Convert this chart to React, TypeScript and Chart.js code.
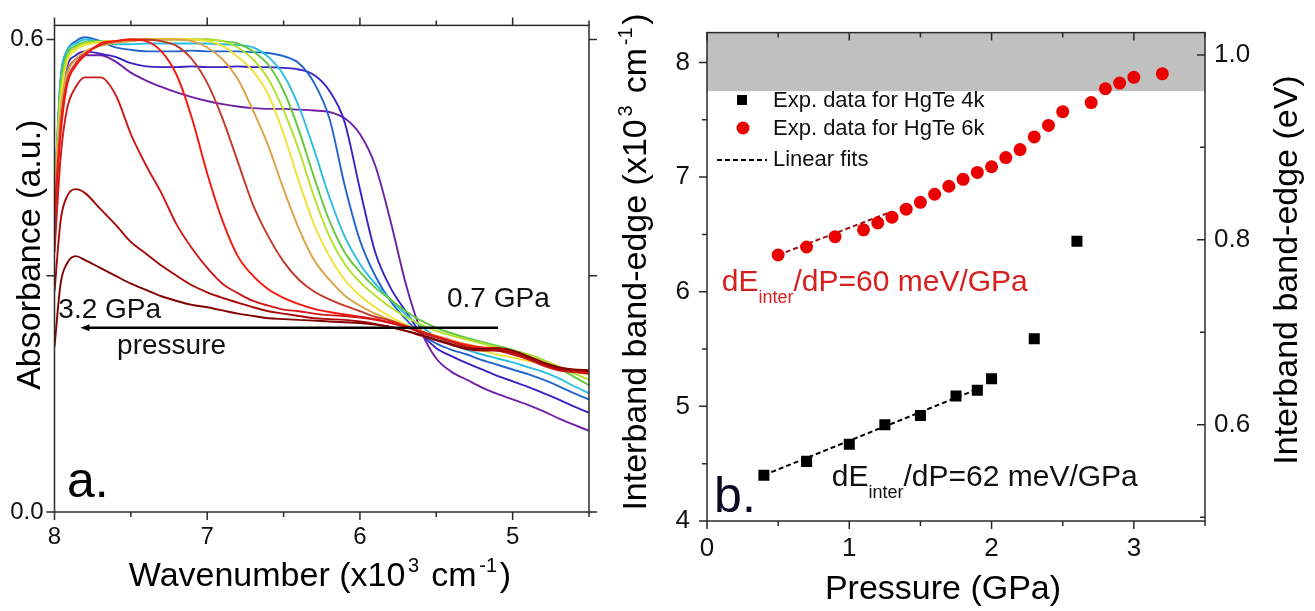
import React, { useEffect, useRef } from "react";
import { Chart, registerables } from "chart.js";

Chart.register(...registerables);

const FONT = '"Liberation Sans", Arial, Helvetica, sans-serif';

// ---------------- Panel a: absorbance spectra ----------------
const wavenumbers = [8.0, 7.96, 7.92, 7.86, 7.8, 7.7, 7.6, 7.5, 7.4, 7.3, 7.2, 7.1, 7.0, 6.9, 6.8, 6.7, 6.6, 6.5, 6.4, 6.3, 6.2, 6.1, 6.0, 5.9, 5.8, 5.7, 5.6, 5.5, 5.4, 5.3, 5.2, 5.1, 5.0, 4.9, 4.8, 4.7, 4.6, 4.5];

// 3.2 GPa (darkest red) ... 0.7 GPa (purple)
const absDarkest = [0.21, 0.29, 0.315, 0.325, 0.32, 0.31, 0.3, 0.29, 0.282, 0.274, 0.268, 0.263, 0.26, 0.256, 0.252, 0.249, 0.246, 0.245, 0.244, 0.243, 0.242, 0.241, 0.24, 0.238, 0.235, 0.23, 0.225, 0.219, 0.213, 0.208, 0.207, 0.208, 0.205, 0.198, 0.19, 0.184, 0.181, 0.18];
const absDarkRed = [0.28, 0.37, 0.4, 0.41, 0.405, 0.385, 0.365, 0.343, 0.328, 0.313, 0.3, 0.288, 0.279, 0.272, 0.266, 0.26, 0.255, 0.252, 0.249, 0.246, 0.245, 0.244, 0.242, 0.239, 0.235, 0.23, 0.224, 0.218, 0.212, 0.207, 0.205, 0.205, 0.202, 0.196, 0.188, 0.182, 0.18, 0.179];
const absRed1 = [0.33, 0.45, 0.51, 0.54, 0.552, 0.552, 0.53, 0.48, 0.44, 0.405, 0.365, 0.335, 0.31, 0.29, 0.278, 0.268, 0.262, 0.257, 0.255, 0.252, 0.25, 0.249, 0.247, 0.244, 0.24, 0.235, 0.228, 0.222, 0.216, 0.21, 0.207, 0.205, 0.2, 0.194, 0.186, 0.18, 0.178, 0.176];
const absRed2 = [0.37, 0.48, 0.54, 0.567, 0.58, 0.595, 0.598, 0.6, 0.598, 0.585, 0.555, 0.5, 0.43, 0.37, 0.325, 0.3, 0.283, 0.272, 0.264, 0.258, 0.254, 0.251, 0.248, 0.245, 0.241, 0.236, 0.229, 0.223, 0.217, 0.212, 0.209, 0.208, 0.203, 0.196, 0.188, 0.182, 0.179, 0.177];
const absRed3 = [0.38, 0.49, 0.545, 0.57, 0.582, 0.593, 0.598, 0.6, 0.6, 0.598, 0.592, 0.575, 0.545, 0.5, 0.445, 0.39, 0.35, 0.318, 0.295, 0.28, 0.27, 0.262, 0.255, 0.248, 0.243, 0.236, 0.229, 0.222, 0.216, 0.211, 0.208, 0.207, 0.202, 0.195, 0.187, 0.181, 0.178, 0.176];
const absOrange = [0.4, 0.51, 0.555, 0.575, 0.585, 0.592, 0.596, 0.598, 0.6, 0.6, 0.6, 0.598, 0.59, 0.575, 0.55, 0.51, 0.465, 0.41, 0.36, 0.32, 0.295, 0.275, 0.262, 0.252, 0.244, 0.237, 0.23, 0.224, 0.218, 0.213, 0.209, 0.207, 0.203, 0.196, 0.188, 0.182, 0.178, 0.175];
const absYellow = [0.4, 0.52, 0.57, 0.587, 0.593, 0.597, 0.598, 0.6, 0.6, 0.6, 0.6, 0.6, 0.598, 0.592, 0.578, 0.56, 0.53, 0.48, 0.42, 0.365, 0.325, 0.295, 0.275, 0.26, 0.248, 0.238, 0.23, 0.222, 0.216, 0.21, 0.205, 0.2, 0.196, 0.192, 0.188, 0.184, 0.18, 0.175];
const absYellowGreen = [0.4, 0.53, 0.575, 0.59, 0.595, 0.597, 0.598, 0.6, 0.6, 0.6, 0.6, 0.6, 0.6, 0.598, 0.59, 0.575, 0.55, 0.51, 0.46, 0.4, 0.35, 0.315, 0.292, 0.275, 0.26, 0.248, 0.238, 0.23, 0.224, 0.219, 0.214, 0.209, 0.205, 0.2, 0.193, 0.185, 0.176, 0.168];
const absGreen = [0.4, 0.54, 0.58, 0.592, 0.597, 0.598, 0.597, 0.598, 0.6, 0.6, 0.6, 0.6, 0.6, 0.598, 0.595, 0.585, 0.568, 0.535, 0.485, 0.425, 0.37, 0.33, 0.305, 0.285, 0.27, 0.255, 0.243, 0.234, 0.227, 0.221, 0.216, 0.211, 0.206, 0.2, 0.193, 0.183, 0.172, 0.161];
const absCyan = [0.4, 0.55, 0.585, 0.595, 0.6, 0.597, 0.594, 0.594, 0.595, 0.595, 0.595, 0.595, 0.595, 0.594, 0.593, 0.59, 0.578, 0.555, 0.515, 0.46, 0.4, 0.35, 0.315, 0.29, 0.27, 0.251, 0.236, 0.222, 0.213, 0.206, 0.2, 0.195, 0.19, 0.184, 0.178, 0.17, 0.16, 0.151];
const absBlue = [0.4, 0.55, 0.585, 0.598, 0.603, 0.598, 0.59, 0.587, 0.585, 0.585, 0.585, 0.586, 0.585, 0.585, 0.585, 0.584, 0.583, 0.579, 0.57, 0.545, 0.5, 0.415, 0.345, 0.3, 0.268, 0.245, 0.226, 0.214, 0.206, 0.2, 0.193, 0.187, 0.181, 0.175, 0.168, 0.16, 0.151, 0.143];
const absIndigo = [0.38, 0.52, 0.565, 0.58, 0.585, 0.582, 0.578, 0.57, 0.566, 0.565, 0.565, 0.566, 0.565, 0.565, 0.566, 0.565, 0.565, 0.564, 0.562, 0.555, 0.535, 0.495, 0.41, 0.33, 0.285, 0.255, 0.227, 0.208, 0.198, 0.189, 0.181, 0.173, 0.166, 0.159, 0.151, 0.143, 0.134, 0.126];
const absPurple = [0.36, 0.5, 0.555, 0.575, 0.58, 0.58, 0.572, 0.558, 0.548, 0.54, 0.533, 0.527, 0.522, 0.518, 0.515, 0.513, 0.512, 0.512, 0.511, 0.51, 0.508, 0.5, 0.48, 0.44, 0.37, 0.29, 0.23, 0.195, 0.178, 0.168, 0.158, 0.15, 0.143, 0.136, 0.128, 0.119, 0.111, 0.103];

const spectra = [absDarkest, absDarkRed, absRed1, absRed2, absRed3, absOrange, absYellow, absYellowGreen, absGreen, absCyan, absBlue, absIndigo, absPurple];
const spectraColors = [
  "rgb(128,0,0)", "rgb(168,8,8)", "rgb(205,25,25)", "rgb(250,20,10)", "rgb(195,55,40)",
  "rgb(222,160,70)", "rgb(240,225,50)", "rgb(180,225,40)", "rgb(100,200,60)",
  "rgb(40,190,225)", "rgb(34,102,204)", "rgb(58,34,196)", "rgb(112,32,168)",
];

const wnMajorTicks = [8, 7, 6, 5];
const wnMinorTicks = [7.5, 6.5, 5.5, 4.5];
const absMajorTicks = [0, 0.3, 0.6];
const absLabelled = [0, 0.6];

// ---------------- Panel b: band edge vs pressure ----------------
const pressure4k = [0.4, 0.7, 1.0, 1.25, 1.5, 1.75, 1.9, 2.0, 2.3, 2.6];
const edge4k = [4.4, 4.52, 4.67, 4.84, 4.92, 5.09, 5.14, 5.24, 5.59, 6.44];
const pressure6k = [0.5, 0.7, 0.9, 1.1, 1.2, 1.3, 1.4, 1.5, 1.6, 1.7, 1.8, 1.9, 2.0, 2.1, 2.2, 2.3, 2.4, 2.5, 2.7, 2.8, 2.9, 3.0, 3.2];
const edge6k = [6.32, 6.39, 6.48, 6.54, 6.6, 6.65, 6.72, 6.78, 6.85, 6.92, 6.98, 7.04, 7.09, 7.17, 7.24, 7.35, 7.45, 7.57, 7.65, 7.77, 7.82, 7.87, 7.9];
const fit4kPressure = [0.4, 1.9];
const fit4kEdge = [4.4, 5.15];
const fit6kPressure = [0.5, 1.3];
const fit6kEdge = [6.32, 6.7];
const shadedFrom = 7.75;
const CM_PER_EV = 8.0655;

const pMajorTicks = [0, 1, 2, 3];
const pMinorTicks = [0.5, 1.5, 2.5, 3.5];
const edgeMajorTicks = [4, 5, 6, 7, 8];
const edgeMinorTicks = [4.5, 5.5, 6.5, 7.5];
const evMajorTicks = [0.6, 0.8, 1.0];
const evMinorTicks = [0.5, 0.7, 0.9];

const legendLabels = ["Exp. data for HgTe 4k", "Exp. data for HgTe 6k", "Linear fits"];

// ---------------- helpers ----------------
type Seg = { t: string; k?: "sup" | "sub" };

function drawRich(
  ctx: CanvasRenderingContext2D, segs: Seg[], x: number, y: number, size: number,
  color: string, align: "left" | "center", rotate = false
) {
  ctx.save();
  ctx.fillStyle = color;
  ctx.textBaseline = "alphabetic";
  ctx.textAlign = "left";
  const gap = size * 0.08;
  const parts = segs.map((s) => {
    const fs = s.k ? Math.round(size * 0.6) : size;
    ctx.font = `${fs}px ${FONT}`;
    return { ...s, fs, w: ctx.measureText(s.t).width };
  });
  const total = parts.reduce((a, p) => a + p.w + (p.k === "sup" ? 2 * gap : 0), 0);
  ctx.translate(x, y);
  if (rotate) ctx.rotate(-Math.PI / 2);
  let cx = align === "center" ? -total / 2 : 0;
  for (const p of parts) {
    ctx.font = `${p.fs}px ${FONT}`;
    let dy = 0;
    if (p.k === "sup") { cx += gap; dy = -size * 0.42; }
    if (p.k === "sub") dy = size * 0.4;
    ctx.fillText(p.t, cx, dy);
    cx += p.w + (p.k === "sup" ? gap : 0);
  }
  ctx.restore();
}

function tickMarks(
  ctx: CanvasRenderingContext2D, scale: any, values: number[], len: number,
  edge: "left" | "right" | "top" | "bottom", area: any, inward: boolean
) {
  ctx.beginPath();
  for (const v of values) {
    const p = scale.getPixelForValue(v);
    if (edge === "bottom") { const d = inward ? -1 : 1; ctx.moveTo(p, area.bottom); ctx.lineTo(p, area.bottom + d * len); }
    if (edge === "top") { const d = inward ? 1 : -1; ctx.moveTo(p, area.top); ctx.lineTo(p, area.top + d * len); }
    if (edge === "left") { const d = inward ? 1 : -1; ctx.moveTo(area.left, p); ctx.lineTo(area.left + d * len, p); }
    if (edge === "right") { const d = inward ? -1 : 1; ctx.moveTo(area.right, p); ctx.lineTo(area.right + d * len, p); }
  }
  ctx.stroke();
}

function fixedTicks(values: number[]) {
  return (s: any) => { s.ticks = values.map((v) => ({ value: v })); };
}

const FRAME = "#2a2a2a";

// ---------------- chart a ----------------
function makeChartA(canvas: HTMLCanvasElement) {
  const datasets = spectra.map((vals, i) => ({
    label: `curve ${i + 1}`,
    data: wavenumbers.map((x, j) => ({ x, y: vals[j] })),
    borderColor: spectraColors[i],
    backgroundColor: spectraColors[i],
    borderWidth: 1.9,
    pointRadius: 0,
    fill: false,
    cubicInterpolationMode: "monotone" as const,
  }));

  const decor = {
    id: "decorA",
    afterDraw(chart: any) {
      const { ctx, chartArea: a, scales } = chart;
      const xs = scales.x, ys = scales.y;
      ctx.save();
      ctx.strokeStyle = FRAME;
      ctx.lineWidth = 1.5;
      ctx.strokeRect(a.left, a.top, a.right - a.left, a.bottom - a.top);
      tickMarks(ctx, xs, wnMajorTicks, 8, "bottom", a, false);
      tickMarks(ctx, xs, wnMinorTicks, 5, "bottom", a, false);
      tickMarks(ctx, xs, wnMajorTicks, 8, "top", a, false);
      tickMarks(ctx, xs, wnMinorTicks, 5, "top", a, false);
      tickMarks(ctx, ys, absMajorTicks, 8, "left", a, false);
      tickMarks(ctx, ys, absMajorTicks, 8, "right", a, false);

      // pressure arrow
      const ay = ys.getPixelForValue(0.234);
      const x0 = xs.getPixelForValue(5.096);
      const x1 = xs.getPixelForValue(7.83);
      ctx.strokeStyle = "#000";
      ctx.lineWidth = 2.4;
      ctx.beginPath();
      ctx.moveTo(x0, ay);
      ctx.lineTo(x1 + 6, ay);
      ctx.stroke();
      ctx.fillStyle = "#000";
      ctx.beginPath();
      ctx.moveTo(x1, ay);
      ctx.lineTo(x1 + 9, ay - 3.5);
      ctx.lineTo(x1 + 9, ay + 3.5);
      ctx.closePath();
      ctx.fill();

      drawRich(ctx, [{ t: "0.7 GPa" }], xs.getPixelForValue(5.43), 307, 28, "#111", "left");
      drawRich(ctx, [{ t: "3.2 GPa" }], xs.getPixelForValue(7.975), 318, 28, "#111", "left");
      drawRich(ctx, [{ t: "pressure" }], xs.getPixelForValue(7.59), 354, 28, "#111", "left");
      drawRich(ctx, [{ t: "a." }], xs.getPixelForValue(7.918), 497, 50, "#000", "left");

      // axis titles
      drawRich(ctx, [{ t: "Absorbance (a.u.)" }], 40, (a.top + a.bottom) / 2 - 14, 34, "#000", "center", true);
      drawRich(
        ctx,
        [{ t: "Wavenumber (x10" }, { t: "3", k: "sup" }, { t: " cm" }, { t: "-1", k: "sup" }, { t: ")" }],
        320, 586, 34, "#000", "center"
      );
      ctx.restore();
    },
  };

  return new Chart(canvas, {
    type: "line",
    data: { datasets },
    options: {
      animation: false,
      responsive: false,
      maintainAspectRatio: false,
      events: [],
      layout: { padding: { top: 19, right: 11, left: 0, bottom: 0 } },
      plugins: { legend: { display: false }, tooltip: { enabled: false } },
      scales: {
        x: {
          type: "linear",
          reverse: true,
          min: 4.5,
          max: 8,
          grid: { display: false, drawTicks: false },
          border: { display: false },
          afterBuildTicks: fixedTicks(wnMajorTicks),
          afterFit: (s: any) => { s.height = 99; },
          ticks: {
            autoSkip: false,
            maxRotation: 0,
            padding: 11,
            color: "#111",
            font: { family: FONT, size: 24 },
            callback: (v: any) => String(v),
          },
        },
        y: {
          type: "linear",
          min: 0,
          max: 0.618,
          grid: { display: false, drawTicks: false },
          border: { display: false },
          afterBuildTicks: fixedTicks(absMajorTicks),
          afterFit: (s: any) => { s.width = 54.5; },
          ticks: {
            autoSkip: false,
            padding: 11,
            color: "#111",
            font: { family: FONT, size: 24 },
            callback: (v: any) => (absLabelled.includes(Number(v)) ? Number(v).toFixed(1) : ""),
          },
        },
      },
    },
    plugins: [decor],
  } as any);
}

// ---------------- chart b ----------------
function makeChartB(canvas: HTMLCanvasElement) {
  const decor = {
    id: "decorB",
    beforeDatasetsDraw(chart: any) {
      const { ctx, chartArea: a, scales } = chart;
      const yTop = a.top;
      const yBand = scales.y.getPixelForValue(shadedFrom);
      ctx.save();
      ctx.fillStyle = "rgb(192,192,192)";
      ctx.fillRect(a.left, yTop, a.right - a.left, yBand - yTop);
      ctx.restore();
    },
    afterDraw(chart: any) {
      const { ctx, chartArea: a, scales } = chart;
      const xs = scales.x, ys = scales.y, y2 = scales.y2;
      ctx.save();
      ctx.strokeStyle = FRAME;
      ctx.lineWidth = 1.5;
      ctx.strokeRect(a.left, a.top, a.right - a.left, a.bottom - a.top);
      tickMarks(ctx, xs, pMajorTicks, 8, "bottom", a, false);
      tickMarks(ctx, xs, pMinorTicks, 5, "bottom", a, false);
      tickMarks(ctx, xs, pMajorTicks, 8, "top", a, true);
      tickMarks(ctx, xs, pMinorTicks, 5, "top", a, true);
      tickMarks(ctx, ys, edgeMajorTicks, 8, "left", a, false);
      tickMarks(ctx, ys, edgeMinorTicks, 5, "left", a, false);
      tickMarks(ctx, y2, evMajorTicks, 8, "right", a, true);
      tickMarks(ctx, y2, evMinorTicks, 5, "right", a, true);

      // legend
      const lx = a.left;
      ctx.fillStyle = "#000";
      ctx.fillRect(lx + 35 - 5, 100 - 5, 10, 10);
      ctx.fillStyle = "rgb(235,0,0)";
      ctx.beginPath();
      ctx.arc(lx + 36, 128, 6.5, 0, Math.PI * 2);
      ctx.fill();
      ctx.strokeStyle = "#000";
      ctx.lineWidth = 2;
      ctx.setLineDash([5, 3]);
      ctx.beginPath();
      ctx.moveTo(lx + 10, 160);
      ctx.lineTo(lx + 60, 160);
      ctx.stroke();
      ctx.setLineDash([]);
      ctx.fillStyle = "#111";
      ctx.font = `22px ${FONT}`;
      ctx.textBaseline = "middle";
      ctx.textAlign = "left";
      ctx.fillText(legendLabels[0], lx + 66, 101);
      ctx.fillText(legendLabels[1], lx + 66, 129);
      ctx.fillText(legendLabels[2], lx + 66, 160);

      // annotations
      drawRich(ctx, [{ t: "dE" }, { t: "inter", k: "sub" }, { t: "/dP=60 meV/GPa" }],
        xs.getPixelForValue(0.104), ys.getPixelForValue(6.007), 30, "rgb(214,32,32)", "left");
      drawRich(ctx, [{ t: "dE" }, { t: "inter", k: "sub" }, { t: "/dP=62 meV/GPa" }],
        xs.getPixelForValue(0.877), ys.getPixelForValue(4.309), 30, "#111", "left");
      drawRich(ctx, [{ t: "b." }], xs.getPixelForValue(0.05), ys.getPixelForValue(4.077), 50, "#0a0a22", "left");

      // axis titles
      drawRich(
        ctx,
        [{ t: "Interband band-edge (x10" }, { t: "3", k: "sup" }, { t: " cm" }, { t: "-1", k: "sup" }, { t: ")" }],
        46, 262, 34, "#000", "center", true
      );
      drawRich(ctx, [{ t: "Interband band-edge (eV)" }], 697, 270, 34, "#000", "center", true);
      drawRich(ctx, [{ t: "Pressure (GPa)" }], 343, 599, 34, "#000", "center");
      ctx.restore();
    },
  };

  return new Chart(canvas, {
    type: "line",
    data: {
      datasets: [
        {
          label: legendLabels[0],
          data: pressure4k.map((x, i) => ({ x, y: edge4k[i] })),
          showLine: false,
          pointStyle: "rect",
          pointRadius: 7.8,
          pointBackgroundColor: "#000",
          pointBorderColor: "#000",
          pointBorderWidth: 0,
        },
        {
          label: legendLabels[1],
          data: pressure6k.map((x, i) => ({ x, y: edge6k[i] })),
          showLine: false,
          pointStyle: "circle",
          pointRadius: 6.5,
          pointBackgroundColor: "rgb(235,0,0)",
          pointBorderColor: "rgb(235,0,0)",
          pointBorderWidth: 0,
        },
        {
          label: "fit 4k",
          data: fit4kPressure.map((x, i) => ({ x, y: fit4kEdge[i] })),
          borderColor: "#000",
          borderWidth: 2,
          borderDash: [5, 3],
          pointRadius: 0,
          fill: false,
        },
        {
          label: "fit 6k",
          data: fit6kPressure.map((x, i) => ({ x, y: fit6kEdge[i] })),
          borderColor: "rgb(150,20,20)",
          borderWidth: 2,
          borderDash: [5, 3],
          pointRadius: 0,
          fill: false,
        },
      ],
    },
    options: {
      animation: false,
      responsive: false,
      maintainAspectRatio: false,
      events: [],
      layout: { padding: { top: 24, right: 0, left: 0, bottom: 0 } },
      plugins: { legend: { display: false }, tooltip: { enabled: false } },
      scales: {
        x: {
          type: "linear",
          min: 0,
          max: 3.5,
          grid: { display: false, drawTicks: false },
          border: { display: false },
          afterBuildTicks: fixedTicks(pMajorTicks),
          afterFit: (s: any) => { s.height = 90; },
          ticks: {
            autoSkip: false,
            maxRotation: 0,
            padding: 12,
            color: "#111",
            font: { family: FONT, size: 26 },
            callback: (v: any) => String(v),
          },
        },
        y: {
          type: "linear",
          position: "left",
          min: 4,
          max: 8.26,
          grid: { display: false, drawTicks: false },
          border: { display: false },
          afterBuildTicks: fixedTicks(edgeMajorTicks),
          afterFit: (s: any) => { s.width = 107; },
          ticks: {
            autoSkip: false,
            padding: 17,
            color: "#111",
            font: { family: FONT, size: 26 },
            callback: (v: any) => String(v),
          },
        },
        y2: {
          type: "linear",
          position: "right",
          min: 4 / CM_PER_EV,
          max: 8.26 / CM_PER_EV,
          grid: { display: false, drawTicks: false },
          border: { display: false },
          afterBuildTicks: fixedTicks(evMajorTicks),
          afterFit: (s: any) => { s.width = 110; },
          ticks: {
            autoSkip: false,
            padding: 9,
            color: "#111",
            font: { family: FONT, size: 26 },
            callback: (v: any) => Number(v).toFixed(1),
          },
        },
      },
    },
    plugins: [decor],
  } as any);
}

export default function App() {
  const refA = useRef<HTMLCanvasElement | null>(null);
  const refB = useRef<HTMLCanvasElement | null>(null);

  useEffect(() => {
    const a = makeChartA(refA.current!);
    const b = makeChartB(refB.current!);
    return () => {
      a.destroy();
      b.destroy();
    };
  }, []);

  return (
    <div style={{ position: "absolute", left: 0, top: 0, width: 1315, height: 611, background: "#fff", overflow: "hidden" }}>
      <canvas ref={refA} width={600} height={611} style={{ position: "absolute", left: 0, top: 0, width: 600, height: 611 }} />
      <canvas ref={refB} width={715} height={611} style={{ position: "absolute", left: 600, top: 0, width: 715, height: 611 }} />
    </div>
  );
}
